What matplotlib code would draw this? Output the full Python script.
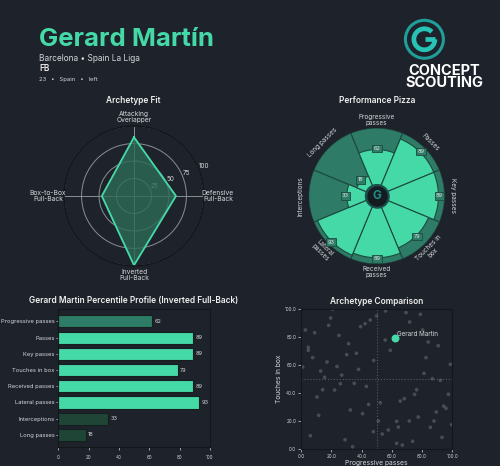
import numpy as np
import matplotlib.pyplot as plt
from matplotlib.patches import Circle, Arc

plt.rcParams['font.family'] = ['Inter', 'DejaVu Sans']

BG = '#1e232b'
GREEN = '#45d9a8'
MID = '#2e7b67'
DARK = '#1f4536'
TXT = '#d4d6d9'

# ---- data ----
archetypes = ['Attacking\nOverlapper', 'Defensive\nFull-Back', 'Inverted\nFull-Back', 'Box-to-Box\nFull-Back']
archetype_fit = [84, 60, 99, 46]

pizza_labels = ['Progressive\npasses', 'Passes', 'Key passes', 'Touches in\nbox',
                'Received\npasses', 'Lateral\npasses', 'Interceptions', 'Long passes']
pizza_values = [62, 89, 89, 79, 89, 93, 33, 18]

bar_labels = ['Progressive passes', 'Passes', 'Key passes', 'Touches in box',
              'Received passes', 'Lateral passes', 'Interceptions', 'Long passes']
bar_values = [62, 89, 89, 79, 89, 93, 33, 18]

others_x = [20.9, 55.9, 69.4, 78.9, 50.0, 19.6, 45.8, 42.3, 18.3, 71.8, 39.4, 2.9, 80.4, 9.0,
            25.1, 55.7, 84.1, 4.8, 4.8, 90.7, 31.5, 59.0, 30.2, 36.6, 7.7, 82.6, 17.2, 48.0,
            23.8, 1.1, 98.7, 13.0, 38.0, 81.3, 15.6, 26.9, 86.8, 92.1, 35.2, 26.0, 43.2, 14.3,
            22.2, 76.4, 75.1, 97.4, 10.6, 68.3, 65.6, 52.4, 44.7, 94.3, 95.8, 32.6, 89.4, 11.7,
            40.7, 77.5, 51.1, 63.2, 71.6, 87.9, 99.6, 64.3, 85.5, 47.8, 53.7, 57.7, 6.2, 93.2,
            29.1, 73.8, 63.2, 67.0, 34.1]
others_y = [99.8, 98.6, 97.4, 96.2, 95.0, 93.6, 92.1, 89.5, 88.3, 90.7, 87.4, 85.0, 85.0, 83.0,
            81.1, 77.8, 76.4, 72.6, 70.4, 73.7, 75.2, 70.4, 67.3, 68.3, 65.2, 65.2, 62.1, 63.2,
            58.9, 58.5, 60.4, 55.6, 56.8, 53.9, 51.1, 52.7, 50.1, 48.9, 46.8, 46.5, 44.6, 42.2,
            42.0, 42.2, 38.9, 38.9, 37.0, 35.8, 34.1, 32.9, 31.7, 30.5, 28.9, 27.7, 26.3, 23.9,
            25.1, 22.7, 19.8, 19.6, 19.8, 19.8, 17.2, 15.5, 15.3, 12.2, 10.5, 13.4, 9.3, 8.1,
            6.4, 5.3, 3.8, 2.6, 1.4]
player_x, player_y = 62, 79

fig = plt.figure(figsize=(5, 4.66), dpi=100, facecolor=BG)

# ---- header ----
fig.text(0.078, 0.902, 'Gerard Martín', color=GREEN, fontsize=18.5, fontweight='bold', va='baseline')
fig.text(0.078, 0.875, 'Barcelona • Spain La Liga', color=TXT, fontsize=6, va='center')
fig.text(0.078, 0.854, 'FB', color='#e8e8e8', fontsize=6, fontweight='semibold', va='center')
fig.text(0.078, 0.830, '23   •   Spain   •   left', color=TXT, fontsize=4.3, va='center')

# logo
lax = fig.add_axes([0.8488 - 0.05, 0.9157 - 0.0536, 0.1, 0.1072])
lax.set_xlim(-25, 25)
lax.set_ylim(-25, 25)
lax.set_aspect('equal')
lax.axis('off')
lax.add_patch(Circle((0, 0), 19, fill=False, ec='#1e9f9a', lw=2.2))
lax.add_patch(Arc((0, 0), 21, 21, theta1=45, theta2=360, ec='#27c3b6', lw=3.4))
lax.plot([1, 10.5], [0, 0], color='#27c3b6', lw=3.4, solid_capstyle='butt')
fig.text(0.888, 0.848, 'CONCEPT', color='white', fontsize=10.5, fontweight='bold', ha='center', va='center')
fig.text(0.888, 0.821, 'SCOUTING', color='white', fontsize=10.5, fontweight='bold', ha='center', va='center')

# ---- archetype radar ----
rax = fig.add_axes([0.268 - 0.14, 0.5794 - 0.150, 0.28, 0.300], projection='polar')
rax.set_facecolor(BG)
rax.set_theta_zero_location('N')
rax.set_theta_direction(-1)
ang = np.linspace(0, 2 * np.pi, len(archetypes), endpoint=False)
vals = archetype_fit + archetype_fit[:1]
angc = np.concatenate([ang, ang[:1]])
rax.fill(angc, vals, color='#2e6b58', alpha=0.8, zorder=2)
rax.plot(angc, vals, color=GREEN, lw=1.3, zorder=2.2)
rax.set_ylim(0, 100)
rax.set_yticks([25, 50, 75, 100])
rax.set_yticklabels(['25', '50', '75', '100'], color=TXT, fontsize=4.6)
rax.set_rlabel_position(67)
rax.set_xticks(ang)
rax.set_xticklabels([])
rax.grid(color='#8a8f96', lw=0.7)
rax.spines['polar'].set_color('#111418')
rax.spines['polar'].set_linewidth(1.0)
# axis labels placed by hand around the circle
label_pos = [(105, 'center', 'bottom'), (97, 'left', 'center'), (105, 'center', 'top'), (97, 'right', 'center')]
for a, lab, (r, ha, va) in zip(ang, archetypes, label_pos):
    rax.text(a, r, lab, ha=ha, va=va, multialignment='center', color=TXT, fontsize=4.8,
             linespacing=1.0, clip_on=False)
fig.text(0.266, 0.785, 'Archetype Fit', color='#eeeeee', fontsize=6, fontweight='semibold', ha='center', va='center')

# ---- performance pizza ----
pax = fig.add_axes([0.7534 - 0.136, 0.5794 - 0.1459, 0.272, 0.2918], projection='polar')
pax.set_facecolor(BG)
pax.set_theta_zero_location('N')
pax.set_theta_direction(-1)
n = len(pizza_labels)
th = np.linspace(0, 2 * np.pi, n, endpoint=False)
w = 2 * np.pi / n
pax.bar(th, [100] * n, width=w, bottom=0, color=MID, edgecolor='#1d4a3d', lw=0.8, zorder=2)
pax.bar(th, pizza_values, width=w, bottom=0, color=GREEN, edgecolor='#1d4a3d', lw=0.8, zorder=3)
pax.set_ylim(-20, 100)
pax.set_xticks([])
pax.set_yticks([])
pax.grid(False)
pax.spines['polar'].set_visible(False)
for t, lab, v in zip(th, pizza_labels, pizza_values):
    deg = np.degrees(t)
    rot = -deg
    if 90 < deg < 270:
        rot += 180
    elif deg >= 270:
        rot += 360
    pax.text(t, 115, lab, rotation=rot, rotation_mode='anchor', ha='center', va='center',
             color=TXT, fontsize=4.6, clip_on=False, linespacing=1.0)
    pax.text(t, v + 2, str(v), ha='center', va='center', color='#e6e6e6', fontsize=4.0, zorder=5,
             bbox=dict(boxstyle='square,pad=0.25', fc='#2e7b67', ec='#1d4a3d', lw=0.6))
pax.scatter([0], [-20], s=260, color='#141c20', edgecolors='#1b4f4c', linewidths=1.5, zorder=6)
pax.text(0, -20, 'G', color='#1f8f8a', fontsize=8.5, fontweight='bold', ha='center', va='center', zorder=7)
fig.text(0.7534, 0.785, 'Performance Pizza', color='#eeeeee', fontsize=6, fontweight='semibold', ha='center', va='center')

# ---- percentile bars ----
bax = fig.add_axes([0.1166, 0.0401, 0.3034, 0.2968])
bax.set_facecolor(BG)
colors = [GREEN if v >= 75 else (MID if v >= 50 else DARK) for v in bar_values]
y = np.arange(len(bar_labels))
bax.barh(y, bar_values, height=0.75, color=colors, edgecolor='#15201c', lw=0.8)
for yi, v in zip(y, bar_values):
    bax.text(v + 1.2, yi, str(v), color=TXT, fontsize=4.0, va='center')
bax.set_yticks(y)
bax.set_yticklabels(bar_labels, color=TXT, fontsize=4.2)
bax.invert_yaxis()
bax.set_xlim(0, 100)
bax.set_xticks([0, 20, 40, 60, 80, 100])
bax.tick_params(axis='x', colors=TXT, labelsize=3.3, length=2, width=0.5)
bax.tick_params(axis='y', length=1.5, width=0.5, colors=TXT, pad=1)
for s in bax.spines.values():
    s.set_color('#13171c')
fig.text(0.268, 0.356, 'Gerard Martin Percentile Profile (Inverted Full-Back)', color='#eeeeee',
         fontsize=6, fontweight='semibold', ha='center', va='center')

# ---- archetype comparison ----
sax = fig.add_axes([0.602, 0.0371, 0.3026, 0.2998])
sax.set_facecolor(BG)
sax.scatter(others_x, others_y, s=7, color='#6b7078', alpha=0.55, edgecolors='none')
sax.axvline(50, color='#6b7078', ls=':', lw=0.8, alpha=0.7)
sax.axhline(50, color='#6b7078', ls=':', lw=0.8, alpha=0.7)
sax.scatter([player_x], [player_y], s=22, color=GREEN, zorder=5)
sax.text(player_x + 1.5, player_y + 1, 'Gerard Martin', color=TXT, fontsize=4.5, va='bottom')
sax.set_xlim(0, 100)
sax.set_ylim(0, 100)
ticks = [0, 20, 40, 60, 80, 100]
sax.set_xticks(ticks)
sax.set_yticks(ticks)
sax.set_xticklabels([f'{t:.1f}' for t in ticks])
sax.set_yticklabels([f'{t:.1f}' for t in ticks])
sax.tick_params(colors=TXT, labelsize=3.3, length=2, width=0.5, pad=1.5)
sax.set_xlabel('Progressive passes', color=TXT, fontsize=4.8, labelpad=1)
sax.set_ylabel('Touches in box', color=TXT, fontsize=4.8, labelpad=2)
for s in sax.spines.values():
    s.set_color('#13171c')
fig.text(0.7534, 0.352, 'Archetype Comparison', color='#eeeeee', fontsize=6, fontweight='semibold',
         ha='center', va='center')

fig.savefig('out.png', dpi=100, facecolor=BG)
